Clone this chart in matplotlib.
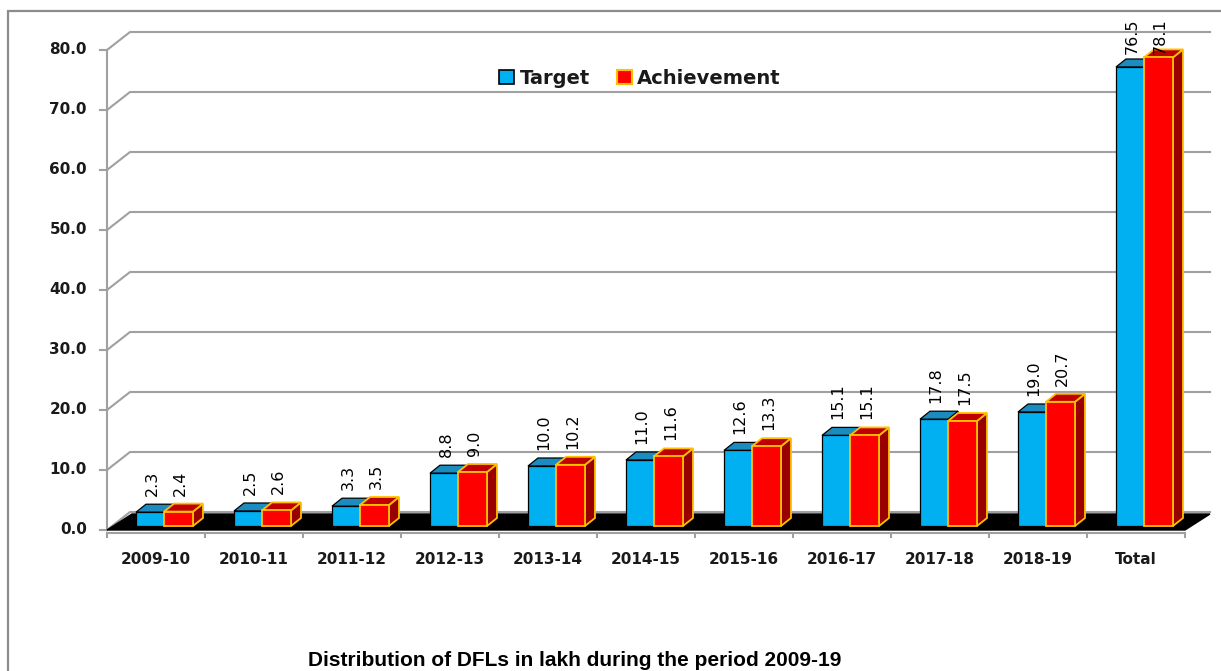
import matplotlib
matplotlib.use("Agg")
import matplotlib.pyplot as plt
from matplotlib.patches import Polygon, Patch, Rectangle

# =============================================================================
# DATA (DFLs in lakh)
# =============================================================================
categories = ['2009-10', '2010-11', '2011-12', '2012-13', '2013-14', '2014-15',
              '2015-16', '2016-17', '2017-18', '2018-19', 'Total']
target = [2.3, 2.5, 3.3, 8.8, 10.0, 11.0, 12.6, 15.1, 17.8, 19.0, 76.5]
achievement = [2.4, 2.6, 3.5, 9.0, 10.2, 11.6, 13.3, 15.1, 17.5, 20.7, 78.1]
y_ticks = [0, 10, 20, 30, 40, 50, 60, 70, 80]

# =============================================================================
# FAKE 3D GEOMETRY (pixel sizes -> data units)
# one category = 98 px wide, one unit of value = 6 px tall
# =============================================================================
W, H = 1221, 671
PX = 1 / 98.0
PY = 1 / 6.0
X0 = -0.5                        # front y-axis position
X_END = X0 + (1210 - 107) * PX   # right end of back gridlines
GDX, GDY = 23 * PX, 18 * PY      # wall depth offset
FDX, FDY = 25 * PX, 16 * PY      # floor depth offset
BDX, BDY = 10 * PX, 8 * PY       # bar depth offset
BASE = 4 * PY                    # bars sit a little behind the front edge

GRID = '#a0a0a0'
BLUE, BLUE_TOP = '#00b0f0', '#1b8cc0'
RED, RED_TOP, RED_SIDE, ORANGE = '#ff0000', '#c00000', '#990000', '#ffc000'

fig = plt.figure(figsize=(W / 100, H / 100), dpi=100)
ax = fig.add_axes([0, 0, 1, 1])
ax.set_xlim(X0 - 107 * PX, X0 + (W - 107) * PX)
ax.set_ylim((530 - H) * PY, 530 * PY)
ax.axis('off')

# outer chart border
fig.patches.append(Rectangle((8 / W, -0.1), 2, 1.1 - 11 / H, transform=fig.transFigure,
                             fill=False, edgecolor='#8c8c8c', lw=1.6))

# back wall gridlines with the diagonal from the front axis
for v in y_ticks:
    ax.plot([X0, X0 + GDX, X_END], [v, v + GDY, v + GDY], color=GRID, lw=1.5, zorder=1)
    ax.plot([X0 - 7 * PX, X0], [v, v], color=GRID, lw=1.5, zorder=1)
    ax.text(X0 - 20 * PX, v, f'{v:.1f}', ha='right', va='center', fontsize=11,
            fontweight='bold', color='#1a1a1a')
ax.plot([X0, X0], [0, y_ticks[-1]], color=GRID, lw=1.5, zorder=1)

# x axis + category ticks
n = len(categories)
ax.plot([X0, X0 + n], [-0.5, -0.5], color=GRID, lw=1.5, zorder=1)
for i in range(n + 1):
    ax.plot([X0 + i, X0 + i], [-0.5, -1.2], color=GRID, lw=1.5, zorder=1)
for i, cat in enumerate(categories):
    ax.text(i, -5, cat, ha='center', va='center', fontsize=11, fontweight='bold', color='#1a1a1a')

# black floor
floor = [(X0, 0), (X0 + n, 0), (X0 + n + FDX, FDY), (X0 + FDX, FDY)]
ax.add_patch(Polygon(floor, closed=True, facecolor='black', edgecolor='black', lw=1, zorder=2))


def draw_bar(x_left, width, value, face, top, side, edge, lw):
    y0, y1 = BASE, BASE + value
    x1 = x_left + width
    ax.add_patch(Polygon([(x1, y0), (x1 + BDX, y0 + BDY), (x1 + BDX, y1 + BDY), (x1, y1)],
                         facecolor=side, edgecolor=edge, lw=lw, zorder=3))
    ax.add_patch(Polygon([(x_left, y1), (x1, y1), (x1 + BDX, y1 + BDY), (x_left + BDX, y1 + BDY)],
                         facecolor=top, edgecolor=edge, lw=lw, zorder=3))
    ax.add_patch(Rectangle((x_left, y0), width, value, facecolor=face, edgecolor=edge,
                           lw=lw, zorder=3))


def draw_label(xc, value):
    if value > 70:
        y, va = 85.3, 'top'
    else:
        y, va = BASE + value + 16 * PY, 'bottom'
    ax.text(xc, y, f'{value:.1f}', rotation=90, ha='center', va=va, fontsize=11.5,
            color='black', zorder=5)


bar_w = 28 * PX
for i in range(n):
    t_left = i - 20 * PX
    a_left = i + 8 * PX
    draw_bar(t_left, bar_w, target[i], BLUE, BLUE_TOP, '#0b6f99', 'black', 0.9)
    draw_bar(a_left, 29 * PX, achievement[i], RED, RED_TOP, RED_SIDE, ORANGE, 1.3)
    draw_label(t_left + bar_w / 2 + 2 * PX, target[i])
    draw_label(a_left + 29 * PX / 2 + 2 * PX, achievement[i])

# legend
handles = [Patch(facecolor=BLUE, edgecolor='black', lw=1.2),
           Patch(facecolor=RED, edgecolor=ORANGE, lw=1.5)]
fig.legend(handles, ['Target', 'Achievement'], loc='center', bbox_to_anchor=(640 / W, 1 - 78 / H),
           ncol=2, frameon=False, prop={'size': 14, 'weight': 'bold'}, handlelength=0.75,
           handleheight=0.75, handletextpad=0.3, columnspacing=1.4, labelcolor='#1a1a1a')

# caption under the chart (sits right at the bottom edge in the original)
fig.text(575 / W, 1 - 651 / H, 'Distribution of DFLs in lakh during the period 2009-19',
         ha='center', va='top', fontsize=15, fontweight='bold',
         family=['Liberation Sans', 'DejaVu Sans'])

fig.savefig('out.png', dpi=100)
